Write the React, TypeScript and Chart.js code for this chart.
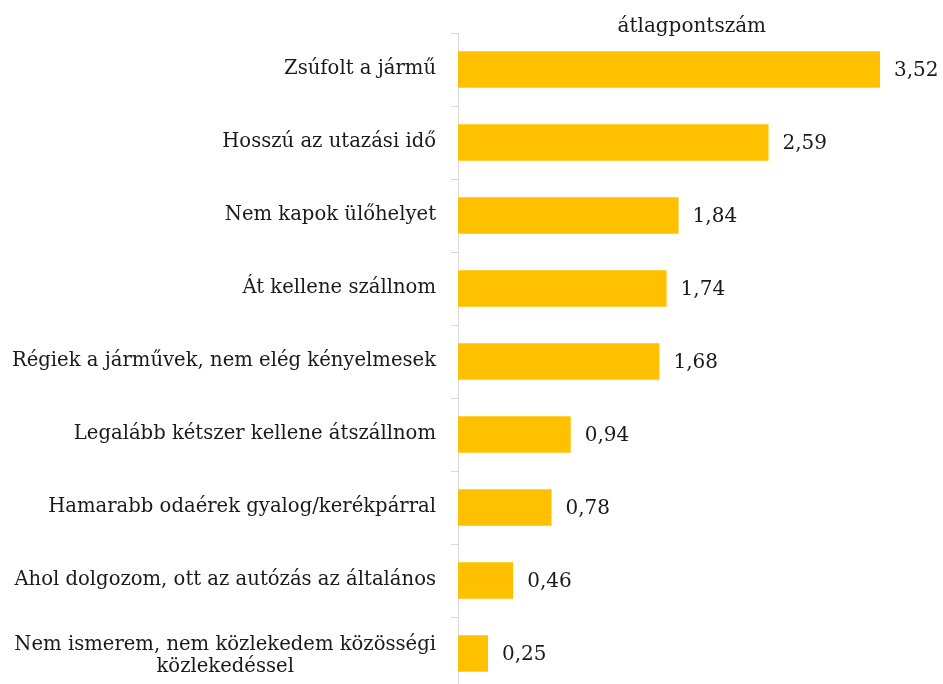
import React, { useEffect, useRef } from "react";
import { Chart, registerables } from "chart.js";

Chart.register(...registerables);

const categories: (string | string[])[] = [
  "Zsúfolt a jármű",
  "Hosszú az utazási idő",
  "Nem kapok ülőhelyet",
  "Át kellene szállnom",
  "Régiek a járművek, nem elég kényelmesek",
  "Legalább kétszer kellene átszállnom",
  "Hamarabb odaérek gyalog/kerékpárral",
  "Ahol dolgozom, ott az autózás az általános",
  ["Nem ismerem, nem közlekedem közösségi", "közlekedéssel"],
];
const values = [3.52, 2.59, 1.84, 1.74, 1.68, 0.94, 0.78, 0.46, 0.25];
const seriesName = "átlagpontszám";

const FONT_FAMILY = "'DejaVu Serif', 'Liberation Serif', serif";
const LABEL_SIZE = 19.6;
const VALUE_SIZE = 20;
const TEXT_COLOR = "#1a1a1a";

const labelsPlugin = {
  id: "customLabels",
  afterDraw(chart: any) {
    const ctx = chart.ctx;
    const area = chart.chartArea;
    const yScale = chart.scales.y;
    ctx.save();
    ctx.font = `${LABEL_SIZE}px ${FONT_FAMILY}`;
    ctx.fillStyle = TEXT_COLOR;
    ctx.textBaseline = "middle";
    // category labels
    categories.forEach((lab, i) => {
      const py = yScale.getPixelForValue(i);
      const lines = Array.isArray(lab) ? lab : [lab];
      const w = Math.max(...lines.map((l) => ctx.measureText(l).width));
      const xr = area.left - 22;
      const cx = xr - w / 2;
      const lh = 22;
      const shift = lines.length > 1 ? 2.5 : -1;
      ctx.textAlign = "center";
      lines.forEach((l, j) => {
        ctx.fillText(l, cx, py + shift + (j - (lines.length - 1) / 2) * lh);
      });
    });
    // value labels
    ctx.font = `${VALUE_SIZE}px ${FONT_FAMILY}`;
    const meta = chart.getDatasetMeta(0);
    ctx.textAlign = "left";
    meta.data.forEach((bar: any, i: number) => {
      const txt = values[i].toFixed(2).replace(".", ",");
      ctx.fillText(txt, bar.x + 14, bar.y + 1);
    });
    ctx.restore();
  },
};

export default function App() {
  const ref = useRef<HTMLCanvasElement | null>(null);
  useEffect(() => {
    if (!ref.current) return;
    const chart = new Chart(ref.current, {
      type: "bar",
      data: {
        labels: categories as any,
        datasets: [
          {
            label: seriesName,
            data: values,
            backgroundColor: "#FFC000",
            barPercentage: 0.5,
            categoryPercentage: 1,
          },
        ],
      },
      options: {
        indexAxis: "y",
        responsive: false,
        animation: false,
        devicePixelRatio: 1,
        layout: { padding: { left: 0, right: 17.4, top: 0, bottom: 10 } },
        plugins: {
          legend: { display: false },
          tooltip: { enabled: false },
          title: {
            display: true,
            text: seriesName,
            fullSize: false,
            color: TEXT_COLOR,
            font: { family: FONT_FAMILY, size: VALUE_SIZE, weight: "normal", lineHeight: 0.63 },
            padding: { top: 20.4, bottom: 0 },
          },
        },
        scales: {
          x: { display: false, min: 0, max: 3.9 },
          y: {
            type: "category",
            offset: true,
            afterFit: (s: any) => {
              s.width = 458;
            },
            ticks: { display: false },
            grid: {
              display: true,
              drawOnChartArea: false,
              drawTicks: true,
              tickLength: 7,
              color: "#d9d9d9",
              offset: true,
            },
            border: { display: true, color: "#d9d9d9", width: 1 },
          },
        },
      },
      plugins: [labelsPlugin],
    });
    return () => chart.destroy();
  }, []);
  return (
    <div style={{ position: "absolute", left: 0, top: 0, width: 943, height: 700, background: "#fff" }}>
      <canvas ref={ref} width={943} height={700} />
    </div>
  );
}
